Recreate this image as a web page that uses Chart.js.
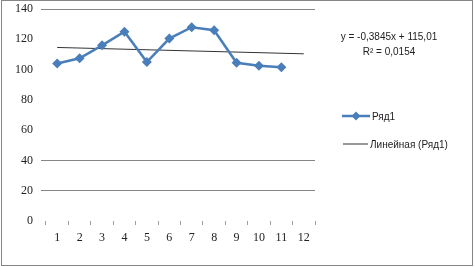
<!DOCTYPE html>
<html>
<head>
<meta charset="utf-8">
<script src="https://cdn.jsdelivr.net/npm/chart.js@4/dist/chart.umd.min.js"></script>
<style>
  html, body { margin: 0; padding: 0; background: #fff; }
  body { width: 475px; height: 267px; position: relative; overflow: hidden; }
  #frame { position: absolute; left: 1px; top: 0px; width: 472px; height: 266px; box-sizing: border-box; border: 1px solid #868686; }
  #wrap { position: absolute; left: 0; top: 0; width: 475px; height: 267px; }
  .txt { position: absolute; font-family: "Liberation Sans", Arial, sans-serif; font-size: 10px; color: #222; white-space: nowrap; }
  .eq { text-align: center; width: 140px; left: 319px; }
  .leg { position: absolute; display: flex; align-items: center; }
</style>
</head>
<body>
<div id="frame"></div>
<div id="wrap"><canvas id="c" width="475" height="267"></canvas></div>
<div class="txt eq" style="top:31px;">y = -0,3845x + 115,01</div>
<div class="txt eq" style="top:46px;">R² = 0,0154</div>
<div class="leg" style="left:342px; top:110px;">
  <svg width="29" height="12"><line x1="0" y1="6" x2="28" y2="6" stroke="#4A7EBB" stroke-width="2.5"/><polygon points="14,1.5 18.5,6 14,10.5 9.5,6" fill="#4A7EBB"/></svg>
  <span class="txt" style="position:static;margin-left:1px;">Ряд1</span>
</div>
<div class="leg" style="left:343px; top:138px;">
  <svg width="25" height="12"><line x1="0" y1="6" x2="25" y2="6" stroke="#333" stroke-width="1"/></svg>
  <span class="txt" style="position:static;margin-left:2px;">Линейная (Ряд1)</span>
</div>
<script>
const categories = ['1','2','3','4','5','6','7','8','9','10','11','12'];
const series1 = [104, 107.5, 116, 125, 105, 120.5, 128, 126, 104.5, 102.5, 101.5, null];
const trendline = [114.6, null, null, null, null, null, null, null, null, null, null, 110.4];
const yMin = 0, yMax = 140, yStep = 20;
const visibleGrid = [140, 40, 20];

new Chart(document.getElementById('c'), {
  type: 'line',
  data: {
    labels: categories,
    datasets: [
      {
        label: 'Ряд1',
        data: series1,
        borderColor: '#4A7EBB',
        backgroundColor: '#4A7EBB',
        borderWidth: 2.5,
        pointStyle: 'rectRot',
        pointRadius: 5,
        pointBorderWidth: 0,
        tension: 0,
        order: 0
      },
      {
        label: 'Линейная (Ряд1)',
        data: trendline,
        borderColor: '#333',
        borderWidth: 1,
        pointRadius: 0,
        spanGaps: true,
        tension: 0,
        order: 1
      }
    ]
  },
  options: {
    responsive: false,
    animation: false,
    devicePixelRatio: 1,
    layout: { padding: { left: 0, right: 160, top: 9, bottom: 0 } },
    plugins: { legend: { display: false }, tooltip: { enabled: false } },
    scales: {
      x: {
        offset: true,
        border: { display: false },
        grid: { offset: true, drawOnChartArea: false, drawTicks: true, tickLength: 4, color: '#a0a0a0' },
        ticks: { color: '#222', padding: 6, maxRotation: 0, font: { family: '"Liberation Serif", serif', size: 12 } },
        afterFit: s => { s.height = 46; s.paddingLeft = 0; s.paddingRight = 0; }
      },
      y: {
        min: yMin, max: yMax,
        border: { display: false },
        grid: {
          tickLength: 5,
          color: ctx => (ctx.tick && visibleGrid.includes(ctx.tick.value)) ? '#868686' : 'rgba(0,0,0,0)'
        },
        ticks: { stepSize: yStep, color: '#222', padding: 8, font: { family: '"Liberation Serif", serif', size: 12 } },
        afterFit: s => { s.width = 46; s.paddingTop = 0; s.paddingBottom = 0; }
      }
    }
  }
});
</script>
</body>
</html>
